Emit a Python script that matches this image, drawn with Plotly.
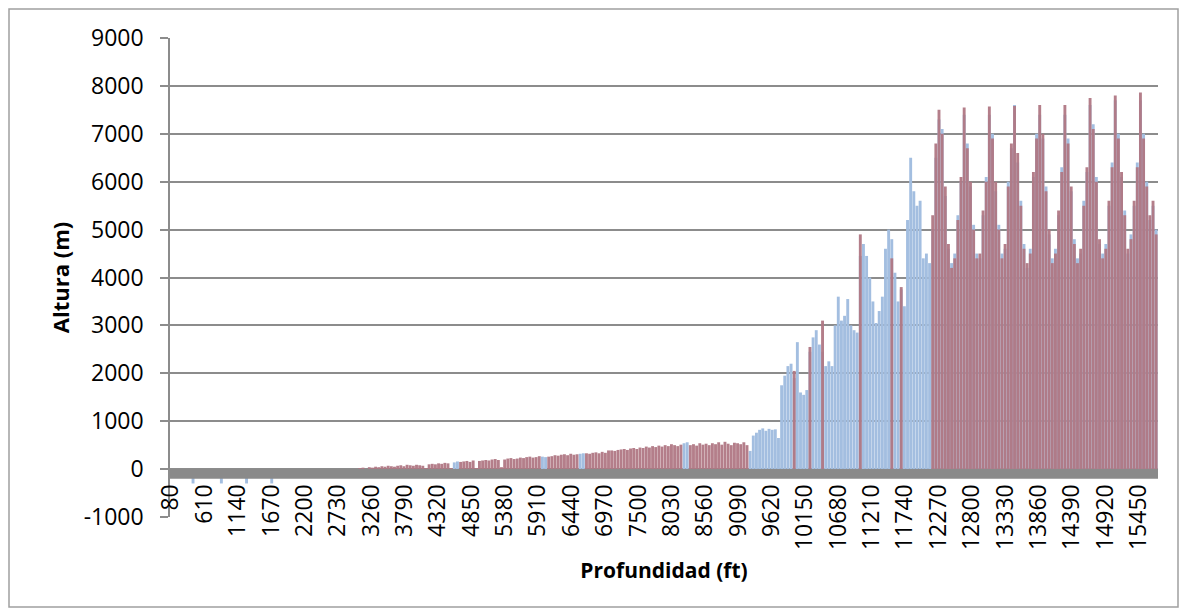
import plotly.graph_objects as go

# depth categories (ft), one bar every 50 ft
depth = list(range(80, 15731, 50))

# tick labels shown on the category axis
tick_depth = [80, 610, 1140, 1670, 2200, 2730, 3260, 3790, 4320, 4850, 5380, 5910,
              6440, 6970, 7500, 8030, 8560, 9090, 9620, 10150, 10680, 11210, 11740,
              12270, 12800, 13330, 13860, 14390, 14920, 15450]
tick_alt = [-1000, 0, 1000, 2000, 3000, 4000, 5000, 6000, 7000, 8000, 9000]

# series 1 (blue)
blue = [
    0, 0, 0, 0, 0, 0, 0, -300, 0, 0,
    0, 0, 0, 0, 0, 0, -300, 0, 0, 0,
    0, 0, 0, 0, -300, 0, 0, 0, 0, 0,
    0, 0, -300, 0, 0, 0, 0, 0, 0, 0,
    -150, 0, 0, 0, 0, 0, 0, 0, 0, 0,
    0, 0, 0, 0, 0, 0, 0, 0, 0, 0,
    0, 0, 0, 0, 0, 0, 0, 0, 0, 0,
    0, 0, 0, 0, 0, 0, 0, 0, 0, 0,
    0, 0, 0, 0, 0, 0, 0, 0, 0, 0,
    140, 160, 0, 0, 0, 0, 0, 0, 0, 0,
    0, 0, 0, 0, 0, 0, 0, 0, 0, 0,
    0, 0, 0, 0, 0, 0, 0, 0, 260, 250,
    0, 0, 0, 0, 0, 0, 0, 0, 0, 0,
    320, 330, 0, 0, 0, 0, 0, 0, 0, 0,
    0, 0, 0, 0, 0, 0, 0, 0, 0, 0,
    0, 0, 0, 0, 0, 0, 0, 0, 0, 0,
    0, 0, 0, 540, 560, 0, 0, 0, 0, 0,
    0, 0, 0, 0, 0, 0, 0, 0, 0, 0,
    0, 0, 0, 0, 380, 700, 760, 820, 850, 800,
    840, 820, 830, 650, 1750, 1950, 2150, 2200, 1900, 2650,
    1600, 1550, 1650, 2450, 2750, 2900, 2600, 2450, 2150, 2250,
    2150, 3000, 3600, 3100, 3200, 3550, 3000, 2900, 2850, 4450,
    4700, 4450, 4000, 3500, 3050, 3300, 3600, 4600, 5000, 4800,
    4100, 3500, 3750, 3400, 5200, 6500, 5800, 5500, 5600, 4400,
    4500, 4300, 5000, 6500, 7300, 7100, 5700, 4600, 4300, 4500,
    5300, 6000, 7400, 6800, 5900, 5100, 4500, 4400, 5300, 6100,
    7400, 7000, 5800, 5100, 4500, 4600, 6000, 6700, 7600, 6400,
    5600, 4700, 4200, 4600, 6100, 7000, 7400, 6900, 5900, 4900,
    4400, 4600, 5300, 6300, 7400, 6900, 5800, 4800, 4400, 4500,
    5600, 6200, 7600, 7200, 6100, 4700, 4500, 4700, 5500, 6400,
    7700, 7000, 6100, 5400, 4500, 4900, 5500, 6400, 7700, 7000,
    6000, 5200, 5500, 5000,
]

# series 2 (red)
red = [
    0, 0, 0, 0, 0, 0, 0, 0, 0, 0,
    0, 0, 0, 0, 0, 0, 0, 0, 0, 0,
    0, 0, 0, 0, 0, 0, 0, 0, 0, 0,
    0, 0, 0, 0, 0, 0, 0, 0, 0, 0,
    0, 0, 0, 0, 0, 0, 0, 0, 0, 0,
    0, 0, 0, 0, 0, 0, 0, 0, 0, 0,
    20, 30, 0, 40, 30, 50, 40, 60, 50, 70,
    60, 50, 70, 80, 60, 90, 80, 70, 90, 80,
    70, 10, 100, 110, 100, 120, 110, 130, 120, 20,
    0, 0, 150, 160, 170, 150, 180, 20, 170, 180,
    190, 180, 200, 210, 190, 40, 200, 220, 230, 210,
    220, 240, 230, 250, 260, 240, 250, 270, 0, 0,
    260, 270, 290, 280, 300, 310, 290, 320, 300, 310,
    0, 0, 330, 320, 340, 350, 330, 360, 340, 390,
    390, 380, 400, 410, 420, 400, 430, 440, 420, 450,
    440, 470, 450, 480, 460, 490, 470, 500, 480, 520,
    500, 480, 510, 0, 0, 500, 520, 490, 540, 510,
    530, 500, 540, 520, 560, 510, 570, 530, 500, 550,
    540, 520, 560, 500, 0, 0, 0, 0, 0, 0,
    0, 0, 0, 0, 0, 0, 0, 0, 2050, 0,
    0, 0, 0, 2550, 0, 0, 0, 3100, 0, 0,
    0, 0, 0, 0, 0, 0, 0, 0, 0, 4900,
    0, 0, 0, 0, 0, 0, 0, 0, 0, 4400,
    0, 0, 3800, 0, 0, 0, 0, 0, 0, 0,
    0, 0, 5300, 6800, 7500, 7000, 5900, 4700, 4200, 4400,
    5200, 6100, 7550, 6700, 6000, 5000, 4400, 4500, 5400, 6000,
    7570, 6900, 6000, 5000, 4400, 4700, 5900, 6800, 7580, 6600,
    5500, 4600, 4300, 4500, 6200, 6900, 7600, 7000, 5800, 5000,
    4300, 4500, 5400, 6200, 7600, 6800, 5900, 4700, 4300, 4600,
    5500, 6300, 7750, 7100, 6000, 4800, 4400, 4600, 5600, 6300,
    7800, 6900, 6200, 5300, 4600, 4800, 5600, 6300, 7860, 6900,
    5900, 5300, 5600, 4900,
]

font = "Open Sans"
grid = "#8c8c8c"

fig = go.Figure()
fig.add_trace(go.Bar(x=depth, y=blue, width=46, marker=dict(color="#a3bee0", line=dict(width=0))))
fig.add_trace(go.Bar(x=depth, y=red, width=46, marker=dict(color="#b07884", line=dict(width=0)), opacity=0.95))

fig.update_layout(
    width=1171, height=600,
    margin=dict(l=162, r=21, t=30, b=91),
    paper_bgcolor="white", plot_bgcolor="white",
    barmode="overlay", showlegend=False,
    font=dict(family=font, size=23, color="black"),
    xaxis=dict(
        range=[64, 15759], showgrid=False, zeroline=False, showline=False,
        tickvals=tick_depth, ticktext=[str(v) for v in tick_depth],
        tickangle=-90, ticks="", anchor="free", position=0.08,
        tickfont=dict(size=23),
        title=dict(text="<b>Profundidad (ft)</b>", font=dict(size=21), standoff=14),
    ),
    yaxis=dict(
        range=[-1000, 9000], showgrid=True, gridcolor=grid, gridwidth=2,
        tickvals=tick_alt, ticktext=[str(v) for v in tick_alt],
        zeroline=False, showline=True, linecolor=grid, linewidth=1.5,
        ticks="outside", ticklen=8, tickcolor=grid, tickwidth=1.5,
        ticklabelstandoff=12, tickfont=dict(size=23),
        title=dict(text="<b>Altura (m)</b>", font=dict(size=22), standoff=8),
    ),
    shapes=[
        # thick grey horizontal axis band at zero
        dict(type="rect", xref="paper", yref="y", x0=0, x1=1, y0=0, y1=-200,
             fillcolor="#8a8a8a", line=dict(width=0), layer="above"),
        # chart border
        dict(type="rect", xref="paper", yref="paper",
             x0=-161 / 988, x1=1 + 20 / 988, y0=-90 / 479, y1=1 + 29 / 479,
             line=dict(color="#a0a0a0", width=1.5), fillcolor="rgba(0,0,0,0)"),
    ],
)

fig.write_html("out.html")
